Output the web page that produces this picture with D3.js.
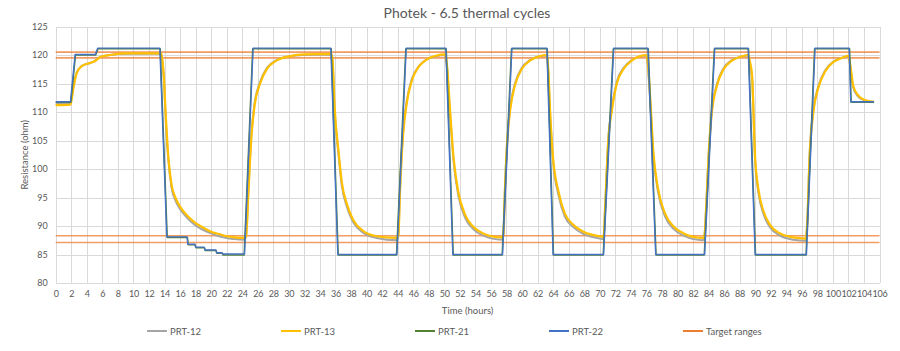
<!DOCTYPE html>
<html lang="en">
<head>
<meta charset="UTF-8">
<title>Photek - 6.5 thermal cycles</title>
<script src="https://d3js.org/d3.v7.min.js"></script>
<style>
    body { margin: 0; background: #fff; }
    text { font-family: Lato, "Open Sans", sans-serif; fill: #595959; }
    .grid line { stroke: #d9d9d9; stroke-width: 1; shape-rendering: crispEdges; }
    .tick-label { font-size: 9px; }
    .series { fill: none; stroke-linejoin: round; }
</style>
</head>
<body>
<svg class="chart"></svg>
<script>
// time (hours), resistance (ohm)
const prt12 = [[0,111.4],[1.9,111.5],[2.3,114.6],[2.7,116.9],[3.3,118],[4.4,118.6],[5.0,118.9],[5.4,119.4],[5.8,119.7],[7.0,120.0],[9.0,120.2],[13.6,120.2],
    [13.9,116],[14.2,107.5],[14.5,101.5],[14.9,96.8],[15.4,94.5],[16.0,93.0],[17.0,91.3],[18.0,90.1],[19.0,89.3],[20.0,88.7],[21.0,88.2],[22.0,87.9],[23.0,87.7],[24.3,87.6],
    [24.5,88.4],[24.8,96.5],[25.2,106.5],[25.6,111.6],[26.3,115.3],[27.2,117.8],[28.4,119.1],[30.2,119.8],[32,120.0],[35.4,120.1],
    [35.6,119.2],[35.9,110],[36.4,102.4],[36.8,97.2],[37.5,93.2],[38.3,90.6],[39.6,88.8],[41.3,87.9],[43.9,87.5],
    [44.1,88.6],[44.3,96.5],[44.7,106.5],[45.2,112.2],[45.8,115.7],[46.7,118],[47.7,119.2],[49.0,119.8],[50.1,120.0],
    [50.4,117],[50.7,110.6],[51.2,101.3],[51.8,95.4],[52.7,91.4],[53.7,89.5],[55.0,88.3],[57.4,87.6],
    [57.6,88.4],[57.8,96.5],[58.1,105.3],[58.5,111],[59.1,115],[60.0,117.8],[61.0,119.1],[62.3,119.8],[63.2,119.9],
    [63.4,116.5],[63.6,110],[64.0,101.3],[64.7,95.4],[65.5,91.7],[66.6,89.8],[67.9,88.6],[70.0,87.8],[70.5,87.7],
    [70.7,93.6],[71.1,105.3],[71.6,111],[72.2,115.3],[73.1,117.8],[74.1,119.1],[75.2,119.8],[76.0,119.9],
    [76.2,118],[76.5,111.8],[76.9,102.4],[77.5,96],[78.4,91.7],[79.5,89.5],[80.8,88.3],[83.3,87.5],
    [83.5,88.6],[83.7,93.6],[84.0,102.4],[84.4,110],[85.1,115],[85.9,117.6],[87.0,119.1],[88.1,119.7],[89.1,119.9],
    [89.3,118.5],[89.6,116],[90.0,101.3],[90.4,96],[91.1,92],[91.9,89.8],[93.2,88.3],[94.9,87.6],[96.5,87.4],
    [96.7,90.7],[97.0,102.4],[97.5,110.5],[98.1,114.4],[99.0,117.3],[100.1,118.9],[101.2,119.5],[102.0,119.8],
    [102.3,117.3],[102.6,114.4],[103.2,112.8],[104.1,112.0],[105.3,111.7]];

const prt13 = [[0,111.2],[1.9,111.3],[2.3,114.4],[2.7,116.8],[3.3,118],[4.4,118.6],[5.0,118.9],[5.4,119.3],[5.8,119.7],[7.0,120.0],[9.0,120.3],[13.6,120.3],
    [13.9,116.5],[14.2,108.5],[14.5,102],[14.9,97.3],[15.4,95.0],[16.0,93.4],[17.0,91.7],[18.0,90.5],[19.0,89.7],[20.0,89.0],[21.0,88.6],[22.0,88.2],[23.0,88.0],[24.3,87.9],
    [24.5,88.2],[24.8,96],[25.2,106],[25.6,111.2],[26.3,115.0],[27.2,117.6],[28.4,119.0],[30.2,119.8],[32,120.1],[35.4,120.2],
    [35.6,119.5],[35.9,110.6],[36.4,103],[36.8,97.8],[37.5,93.7],[38.3,91.0],[39.6,89.1],[41.3,88.2],[43.9,87.9],
    [44.1,88.5],[44.3,96],[44.7,106],[45.2,111.8],[45.8,115.4],[46.7,117.9],[47.7,119.2],[49.0,119.9],[50.1,120.1],
    [50.4,117.5],[50.7,111.2],[51.2,101.9],[51.8,96.0],[52.7,91.9],[53.7,89.9],[55.0,88.7],[57.4,88.0],
    [57.6,88.3],[57.8,96],[58.1,104.8],[58.5,110.6],[59.1,114.7],[60.0,117.6],[61.0,119.0],[62.3,119.8],[63.2,120.0],
    [63.4,117],[63.6,110.6],[64.0,101.9],[64.7,96],[65.5,92.2],[66.6,90.2],[67.9,89.0],[70.0,88.2],[70.5,88.1],
    [70.7,93.1],[71.1,104.8],[71.6,110.6],[72.2,115],[73.1,117.6],[74.1,119.0],[75.2,119.8],[76.0,120.0],
    [76.2,118.5],[76.5,112.4],[76.9,103],[77.5,96.6],[78.4,92.2],[79.5,89.9],[80.8,88.7],[83.3,87.9],
    [83.5,88.5],[83.7,93.1],[84.0,101.9],[84.4,109.5],[85.1,114.7],[85.9,117.4],[87.0,119.0],[88.1,119.7],[89.1,120.0],
    [89.3,119],[89.6,116.5],[90.0,101.9],[90.4,96.6],[91.1,92.5],[91.9,90.2],[93.2,88.7],[94.9,88.0],[96.5,87.8],
    [96.7,90.2],[97.0,101.9],[97.5,110.1],[98.1,114.1],[99.0,117.1],[100.1,118.8],[101.2,119.5],[102.0,119.9],
    [102.3,117.7],[102.6,114.7],[103.2,113],[104.1,112.1],[105.3,111.8]];

const prt21 = [[0,111.7],[1.95,111.7],[2.55,120.0],[5.15,120.0],[5.45,121.1],[13.45,121.1],[14.35,88.0],[16.95,88.0],[17.05,86.7],[17.95,86.7],
    [18.05,86.2],[19.15,86.2],[19.25,85.7],[20.65,85.7],[20.75,85.2],[21.45,85.2],[21.55,84.9],[24.25,84.9],[25.35,121.1],
    [35.45,121.1],[36.35,84.9],[43.85,84.9],[45.05,121.1],[50.25,121.1],[51.15,84.9],[57.45,84.9],[58.65,121.1],
    [63.25,121.1],[64.05,84.9],[70.45,84.9],[71.75,121.1],[76.25,121.1],[77.25,84.9],[83.45,84.9],[84.75,121.1],
    [89.15,121.1],[90.05,84.9],[96.55,84.9],[97.65,121.1],[102.15,121.1],[102.35,111.7],[105.3,111.7]];

const prt22 = [[0,111.8],[1.9,111.8],[2.5,120.1],[5.1,120.1],[5.4,121.2],[13.4,121.2],[14.3,88.1],[16.9,88.1],[17.0,86.8],[17.9,86.8],
    [18.0,86.3],[19.1,86.3],[19.2,85.8],[20.6,85.8],[20.7,85.3],[21.4,85.3],[21.5,85.1],[24.3,85.1],[25.4,121.2],
    [35.4,121.2],[36.3,85.0],[43.9,85.0],[45.1,121.2],[50.2,121.2],[51.1,85.0],[57.5,85.0],[58.7,121.2],
    [63.2,121.2],[64.0,85.0],[70.5,85.0],[71.8,121.2],[76.2,121.2],[77.2,85.0],[83.5,85.0],[84.8,121.2],
    [89.1,121.2],[90.0,85.0],[96.6,85.0],[97.7,121.2],[102.1,121.2],[102.3,111.8],[105.3,111.8]];

const targetRanges = [120.5, 119.5, 88.3, 87.1];

const xTicks = d3.range(0, 107, 2);
const yTicks = [80, 85, 90, 95, 100, 105, 110, 115, 120, 125];

const seriesNames = ["PRT-12", "PRT-13", "PRT-21", "PRT-22", "Target ranges"];
const seriesColors = ["#a5a5a5", "#ffc000", "#548235", "#4472c4", "#ed7d31"];

const width = 900, height = 351;
const plot = { left: 55.7, right: 879.5, top: 26.5, bottom: 283 };

const svg = d3.select(".chart")
    .attr("width", width)
    .attr("height", height);

const x = d3.scaleLinear().domain([0, 106]).range([plot.left, plot.right]);
const y = d3.scaleLinear().domain([80, 125]).range([plot.bottom, plot.top]);

// gridlines
const grid = svg.append("g").attr("class", "grid");
grid.selectAll(".v").data(xTicks).enter().append("line")
    .attr("x1", d => Math.round(x(d)) + 0.5).attr("x2", d => Math.round(x(d)) + 0.5)
    .attr("y1", plot.top).attr("y2", plot.bottom);
grid.selectAll(".h").data(yTicks).enter().append("line")
    .attr("x1", plot.left).attr("x2", plot.right)
    .attr("y1", d => Math.round(y(d)) + 0.5).attr("y2", d => Math.round(y(d)) + 0.5);

// axes, labels only
const xAxis = svg.append("g")
    .attr("transform", `translate(0,${plot.bottom + 4})`)
    .call(d3.axisBottom(x).tickValues(xTicks).tickSize(0).tickPadding(4));
const yAxis = svg.append("g")
    .attr("transform", `translate(${plot.left - 8},0)`)
    .call(d3.axisLeft(y).tickValues(yTicks).tickSize(0).tickPadding(0));
[xAxis, yAxis].forEach(a => {
    a.select(".domain").remove();
    a.selectAll("text").attr("class", "tick-label")
        .style("font-family", "Lato, 'Open Sans', sans-serif").style("fill", "#595959");
});
xAxis.selectAll("text").style("letter-spacing", "-0.2px");

// target ranges
svg.append("g").selectAll("line").data(targetRanges).enter().append("line")
    .attr("x1", x(0)).attr("x2", x(106))
    .attr("y1", d => y(d)).attr("y2", d => y(d))
    .attr("stroke", seriesColors[4]).attr("stroke-width", 1.6).attr("opacity", 0.75);

const smooth = d3.line().x(d => x(d[0])).y(d => y(d[1])).curve(d3.curveMonotoneX);
const straight = d3.line().x(d => x(d[0])).y(d => y(d[1]));

svg.append("path").datum(prt12).attr("class", "series")
    .attr("stroke", seriesColors[0]).attr("stroke-width", 2).attr("d", smooth);
svg.append("path").datum(prt13).attr("class", "series")
    .attr("stroke", seriesColors[1]).attr("stroke-width", 2.2).attr("d", smooth);
svg.append("path").datum(prt21).attr("class", "series")
    .attr("stroke", seriesColors[2]).attr("stroke-width", 1.5).attr("d", straight);
svg.append("path").datum(prt22).attr("class", "series")
    .attr("stroke", seriesColors[3]).attr("stroke-width", 1.4).attr("d", straight);

// title and axis titles
svg.append("text").attr("x", 467).attr("y", 18).attr("text-anchor", "middle")
    .style("font-size", "14px").text("Photek - 6.5 thermal cycles");
svg.append("text").attr("x", (plot.left + plot.right) / 2).attr("y", 314).attr("text-anchor", "middle")
    .style("font-size", "9.5px").text("Time (hours)");
svg.append("text").attr("transform", `translate(28,${(plot.top + plot.bottom) / 2}) rotate(-90)`)
    .attr("text-anchor", "middle").style("font-size", "9.5px").text("Resistance (ohm)");

// legend
const legendX = [147, 281, 415, 549, 683];
const legend = svg.append("g").selectAll("g").data(seriesNames).enter().append("g")
    .attr("transform", (d, i) => `translate(${legendX[i]},331)`);
legend.append("line").attr("x1", 0).attr("x2", 20).attr("y1", 0).attr("y2", 0)
    .attr("stroke", (d, i) => seriesColors[i]).attr("stroke-width", 2);
legend.append("text").attr("x", 23).attr("y", 3.5).style("font-size", "9.5px").text(d => d);
</script>
</body>
</html>
